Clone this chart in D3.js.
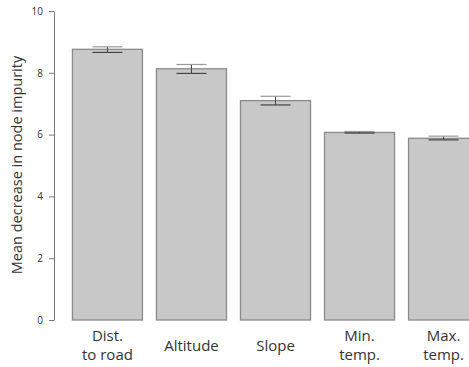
<!DOCTYPE html>
<html>
<head>
<meta charset="utf-8">
<script src="https://cdn.jsdelivr.net/npm/d3@7"></script>
<style>
  html, body { margin: 0; padding: 0; background: #fff; }
  svg { display: block; }
</style>
</head>
<body>
<svg id="chart" width="469" height="367"></svg>
<script>
// Variable importance (mean decrease in node impurity) with error ranges
const categories = [["Dist.", "to road"], ["Altitude"], ["Slope"], ["Min.", "temp."], ["Max.", "temp."]];
const means = [8.76, 8.13, 7.10, 6.07, 5.88];
const lower = [8.66, 7.98, 6.96, 6.05, 5.83];
const upper = [8.84, 8.27, 7.24, 6.10, 5.95];
const yTicks = [0, 2, 4, 6, 8, 10];

const svg = d3.select("#chart");
const font = "'Open Sans', 'Noto Sans', sans-serif";

const y = d3.scaleLinear().domain([0, 10]).range([320, 11]);
const x = d3.scaleBand()
  .domain(d3.range(categories.length))
  .range([65, 485])
  .paddingInner(1 / 6)
  .paddingOuter(0.5 / 6 * 0.99);

// y axis
const yAxis = d3.axisLeft(y).tickValues(yTicks).tickSize(5).tickPadding(6).tickSizeOuter(0);
const gy = svg.append("g").attr("transform", "translate(54,0)").call(yAxis);
gy.select(".domain").attr("stroke", "#777");
gy.selectAll(".tick line").attr("stroke", "#777");
gy.selectAll(".tick text").attr("fill", "#333").style("font-family", font).style("font-size", "10px");

svg.append("text")
  .attr("transform", "translate(22,165) rotate(-90)")
  .attr("text-anchor", "middle")
  .attr("fill", "#333")
  .style("font-family", font)
  .style("font-size", "14.5px")
  .text("Mean decrease in node impurity");

const idx = d3.range(categories.length);
const cx = i => x(i) + x.bandwidth() / 2 + 0.5;

// bars
svg.append("g").selectAll("rect").data(idx).join("rect")
  .attr("x", i => x(i) + 0.5)
  .attr("y", i => y(means[i]))
  .attr("width", x.bandwidth())
  .attr("height", i => y(0) - y(means[i]))
  .attr("fill", "#c8c8c8")
  .attr("stroke", "#8a8a8a")
  .attr("stroke-width", 1.3);

// error bars
const eb = svg.append("g").selectAll("g").data(idx).join("g")
  .attr("transform", i => `translate(${cx(i)},0)`);
eb.append("line")
  .attr("y1", i => y(upper[i])).attr("y2", i => y(lower[i]))
  .attr("stroke", "#444").attr("stroke-width", 1);
eb.append("line")
  .attr("x1", -15).attr("x2", 15)
  .attr("y1", i => y(upper[i])).attr("y2", i => y(upper[i]))
  .attr("stroke", "#999").attr("stroke-width", 1.2);
eb.append("line")
  .attr("x1", -15).attr("x2", 15)
  .attr("y1", i => y(lower[i])).attr("y2", i => y(lower[i]))
  .attr("stroke", "#444").attr("stroke-width", 1.2);

// category labels, one text per line
const lines = idx.flatMap(i => categories[i].map((t, k) => ({
  t, i, yy: categories[i].length > 1 ? 341 + k * 18.5 : 351
})));
svg.append("g").selectAll("text").data(lines).join("text")
  .attr("text-anchor", "middle")
  .attr("fill", "#333")
  .style("font-family", font)
  .style("font-size", "15px")
  .attr("x", d => cx(d.i))
  .attr("y", d => d.yy)
  .text(d => d.t);
</script>
</body>
</html>
